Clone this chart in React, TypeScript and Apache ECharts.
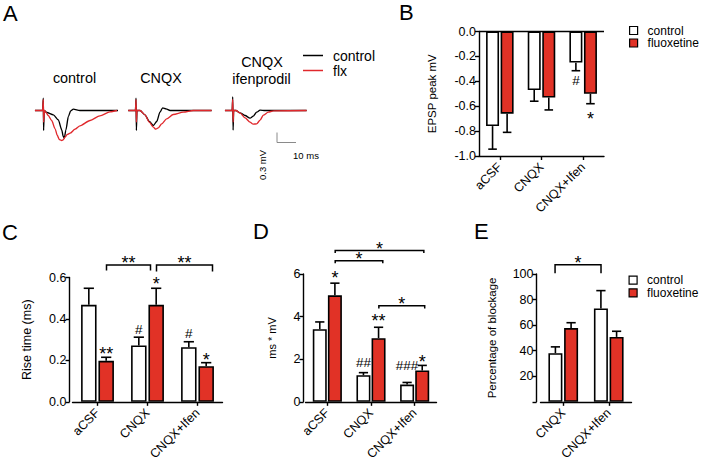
import React, { useEffect, useRef } from 'react';
import * as echarts from 'echarts';

const FONT = '"Liberation Sans", Arial, Helvetica, sans-serif';
const RED = '#e13226';
const TRACE_RED = '#e0282c';

// ---------- Panel A: representative EPSP traces [time (ms), amplitude (mV)] ----------
const traceCtrl1 = [[2.6,0],[6.6,0],[7.0,0.37],[7.16,-0.6],[7.5,0],[8.8,-0.06],[12.3,-0.13],[14.9,-0.28],[16.7,-0.58],[17.5,-0.78],[18.05,-0.83],[18.9,-0.58],[20.2,-0.18],[21.4,-0.01],[22.8,0.04],[26.3,0],[46.3,0]];
const traceFlx1 = [[2.6,0],[6.6,0],[7.0,0.33],[7.16,-0.35],[7.6,0],[8.4,-0.06],[9.6,-0.15],[11.4,-0.3],[13.2,-0.55],[14.4,-0.75],[15.4,-0.87],[16.7,-0.9],[17.5,-0.88],[18.4,-0.8],[19.6,-0.72],[21.1,-0.68],[23.7,-0.56],[26.3,-0.46],[31.6,-0.3],[36.8,-0.16],[42.1,-0.04],[45.8,0]];
const traceCtrl2 = [[51.7,0],[55.5,0],[55.8,0.37],[56.0,-0.6],[56.3,0],[57.9,0],[60.5,-0.13],[62.8,-0.33],[64.9,-0.45],[66.7,-0.33],[68.4,-0.05],[69.8,0.08],[71.6,0.05],[73.7,0],[95.6,0]];
const traceFlx2 = [[51.7,0],[55.5,0],[55.8,0.33],[56.0,-0.35],[56.3,0],[57.9,0],[60.5,-0.13],[62.8,-0.35],[64.9,-0.5],[66.2,-0.56],[67.5,-0.52],[69.3,-0.4],[71.9,-0.25],[75.4,-0.12],[80.7,-0.05],[86.0,0],[95.6,0]];
const traceCtrl3 = [[102.6,0],[106.4,0],[106.7,0.41],[106.9,-0.59],[107.2,0],[108.4,0],[110.5,-0.07],[113.2,-0.15],[115.8,-0.23],[117.5,-0.17],[119.3,-0.05],[121.1,0.01],[123.7,0],[145.6,0]];
const traceFlx3 = [[102.6,0],[106.4,0],[106.7,0.33],[106.9,-0.35],[107.2,0],[108.4,0],[110.5,-0.07],[113.2,-0.22],[115.8,-0.35],[117.5,-0.41],[119.3,-0.4],[121.1,-0.29],[122.8,-0.14],[125.4,-0.05],[128.1,-0.01],[145.6,0]];
const scaleBar = [[130,-0.66],[130,-0.96],[140,-0.96]]; // 0.3 mV / 10 ms

// ---------- Bar panels ----------
const cats3 = ['aCSF', 'CNQX', 'CNQX+Ifen'];
const catsE = ['CNQX', 'CNQX+Ifen'];

// B: EPSP peak (mV)
const bCtrl = [-0.76, -0.47, -0.25];
const bCtrlErr = [0.185, 0.09, 0.065];
const bFlx = [-0.66, -0.53, -0.5];
const bFlxErr = [0.15, 0.1, 0.08];
// C: rise time (ms)
const cCtrl = [0.468, 0.272, 0.264];
const cCtrlErr = [0.08, 0.04, 0.026];
const cFlx = [0.198, 0.468, 0.172];
const cFlxErr = [0.017, 0.08, 0.017];
// D: ms * mV
const dCtrl = [3.41, 1.25, 0.81];
const dCtrlErr = [0.34, 0.12, 0.1];
const dFlx = [5.0, 2.99, 1.47];
const dFlxErr = [0.57, 0.51, 0.24];
// E: percentage of blockage
const eCtrl = [38.1, 73.1];
const eCtrlErr = [4.9, 13.9];
const eFlx = [57.7, 50.8];
const eFlxErr = [4.2, 4.4];

// significance marks: [category, series (0 control / 1 fluoxetine), text, y value]
const bMarks: any[] = [[2, 0, '#', -0.39], [2, 1, '*', -0.673]];
const cMarks: any[] = [[0, 1, '**', 0.25], [1, 0, '#', 0.35], [1, 1, '*', 0.588], [2, 0, '#', 0.331], [2, 1, '*', 0.223]];
const dMarks: any[] = [[0, 1, '*', 6.0], [1, 1, '**', 3.97], [1, 0, '##', 1.84], [2, 0, '###', 1.69], [2, 1, '*', 2.06]];

// brackets: [fromCat, fromShift (cat widths), toCat, toShift, y, leg end y, text]
const cBrackets: any[] = [[0, 0.18, 1, 0.06, 0.66, 0.634, '**'], [1, 0.18, 2, 0.3, 0.66, 0.629, '**']];
const dBrackets: any[] = [[0, 0.18, 2, 0.21, 7.1, 6.98, '*'], [0, 0.18, 1, 0.27, 6.62, 6.5, '*'], [1, 0.18, 2, 0.23, 4.51, 4.38, '*']];
const eBrackets: any[] = [[0, -0.18, 1, -0.17, 107.3, 100.5, '*']];

// bar geometry per panel (px) [barWidth, barGap fraction]
const GEOM: Record<number, [number, number]> = { 1: [13, 0.12], 2: [15.5, 0.12], 3: [14, 0.08], 4: [14, 0.12] };
const offsetOf = (g: number, s: number) => {
  const [w, gap] = GEOM[g];
  const half = (w + gap * w) / 2;
  return s === 0 ? -half : half;
};

const textStyle = (text: string, fontSize: number, extra: any = {}) => ({
  text, fill: '#000', fontFamily: FONT, fontSize,
  align: 'center', verticalAlign: 'middle', textAlign: 'center', textVerticalAlign: 'middle', ...extra,
});

function barSeries(name: string, g: number, data: number[], color: string) {
  const [w, gap] = GEOM[g];
  return {
    type: 'bar', name, xAxisIndex: g, yAxisIndex: g, data, barWidth: w, barGap: `${gap * 100}%`,
    itemStyle: { color, borderColor: '#000', borderWidth: 1.6 }, z: 2, silent: true,
  };
}

function errorSeries(g: number, s: number, vals: number[], errs: number[]) {
  const [w] = GEOM[g];
  return {
    type: 'custom', xAxisIndex: g, yAxisIndex: g, z: 5, silent: true, clip: false,
    data: vals.map((v, i) => [i, v, errs[i]]), encode: { x: 0, y: 1 },
    renderItem: (params: any, api: any) => {
      const cat = api.value(0), m = api.value(1), e = api.value(2);
      const end = m + (m < 0 ? -e : e);
      const p0 = api.coord([cat, m]);
      const p1 = api.coord([cat, end]);
      const x = p0[0] + offsetOf(g, s);
      const cap = w * 0.33;
      const st = { stroke: '#000', lineWidth: 1.6 };
      return {
        type: 'group', children: [
          { type: 'line', shape: { x1: x, y1: p0[1], x2: x, y2: p1[1] }, style: st },
          { type: 'line', shape: { x1: x - cap, y1: p1[1], x2: x + cap, y2: p1[1] }, style: st },
        ],
      };
    },
  };
}

function markSeries(g: number, marks: any[]) {
  return {
    type: 'custom', xAxisIndex: g, yAxisIndex: g, z: 6, silent: true, clip: false,
    data: marks.map((m) => [m[0], m[3]]), encode: { x: 0, y: 1 },
    renderItem: (params: any, api: any) => {
      const m = marks[params.dataIndex];
      const p = api.coord([api.value(0), api.value(1)]);
      const star = m[2].indexOf('*') >= 0;
      const fs = star ? 18 : 13.5;
      return {
        type: 'text', x: p[0] + offsetOf(g, m[1]), y: p[1] + (star ? 4 : 0),
        style: textStyle(m[2], fs),
      };
    },
  };
}

function bracketSeries(g: number, list: any[]) {
  return {
    type: 'custom', xAxisIndex: g, yAxisIndex: g, z: 6, silent: true, clip: false,
    data: list.map((b) => [b[0], b[4]]), encode: { x: 0, y: 1 },
    renderItem: (params: any, api: any) => {
      const b = list[params.dataIndex];
      const w = api.size([1, 0])[0];
      const x1 = api.coord([b[0], b[4]])[0] + b[1] * w;
      const x2 = api.coord([b[2], b[4]])[0] + b[3] * w;
      const y = api.coord([b[0], b[4]])[1];
      const yl = api.coord([b[0], b[5]])[1];
      return {
        type: 'group', children: [
          { type: 'polyline', shape: { points: [[x1, yl], [x1, y], [x2, y], [x2, yl]] }, style: { stroke: '#000', lineWidth: 1.5, fill: null } },
          { type: 'text', x: (x1 + x2) / 2, y: y - 6 + 4, style: textStyle(b[6], 18) },
        ],
      };
    },
  };
}

const axisLineStyle = { color: '#000', width: 1.4 };

function yAxis(g: number, min: number, max: number, interval: number, fmt: any, offset: number, name: string, nameGap: number, nameSize: number) {
  return {
    type: 'value', gridIndex: g, min, max, interval, offset,
    axisLine: { show: true, lineStyle: axisLineStyle },
    axisTick: { show: true, length: 4, lineStyle: axisLineStyle },
    axisLabel: { color: '#000', fontSize: 12.5, fontFamily: FONT, margin: 3, formatter: fmt },
    splitLine: { show: false },
    name, nameLocation: 'middle', nameGap, nameRotate: 90,
    nameTextStyle: { color: '#000', fontSize: nameSize, fontFamily: FONT },
  };
}

function xAxis(g: number, data: string[]) {
  return {
    type: 'category', gridIndex: g, data, position: 'bottom',
    axisLine: { show: true, onZero: false, lineStyle: axisLineStyle },
    axisTick: { show: true, alignWithLabel: true, length: 4, lineStyle: axisLineStyle },
    axisLabel: { color: '#000', fontSize: 12.5, fontFamily: FONT, rotate: 45, margin: 9, interval: 0 },
    splitLine: { show: false },
  };
}

function traceSeries(name: string, data: number[][], color: string) {
  return {
    type: 'line', name, xAxisIndex: 0, yAxisIndex: 0, data, showSymbol: false, symbol: 'none',
    smooth: 0.25, smoothMonotone: 'x', color, lineStyle: { color, width: 1.35 }, silent: true, z: name === 'flxTrace' ? 3 : 2,
  };
}

const legendCommon = {
  orient: 'vertical', icon: 'rect', itemWidth: 8, itemHeight: 8, selectedMode: false, padding: 0,
  itemStyle: { borderColor: '#000', borderWidth: 1.2 },
  textStyle: { color: '#000', fontSize: 12, lineHeight: 11, fontFamily: FONT, padding: [0, 0, 0, 5] },
};

export default function App() {
  const ref = useRef<HTMLDivElement>(null);
  useEffect(() => {
    if (!ref.current) return;
    const chart = echarts.init(ref.current, undefined, { renderer: 'svg' });
    const option: any = {
      animation: false,
      backgroundColor: '#fff',
      textStyle: { fontFamily: FONT },
      grid: [
        { left: 30, top: 90.5, width: 285, height: 60 },
        { left: 479, top: 31.5, width: 125, height: 124.5 },
        { left: 72.5, top: 277.5, width: 150, height: 130 },
        { left: 305.5, top: 274, width: 131, height: 136 },
        { left: 540.5, top: 274, width: 91, height: 136.3 },
      ],
      xAxis: [
        { type: 'value', gridIndex: 0, min: 0, max: 150, show: false },
        xAxis(1, cats3),
        xAxis(2, cats3),
        xAxis(3, cats3),
        xAxis(4, catsE),
      ],
      yAxis: [
        { type: 'value', gridIndex: 0, min: -1.2, max: 0.6, show: false },
        yAxis(1, -1, 0, 0.2, (v: number) => v.toFixed(1), 0, 'EPSP peak mV', 41, 11.5),
        yAxis(2, 0, 0.6, 0.2, (v: number) => v.toFixed(1), 3, 'Rise time (ms)', 36, 12.5),
        yAxis(3, 0, 6, 2, (v: number) => String(v), 2, 'ms * mV', 26, 11),
        yAxis(4, 0, 100, 20, (v: number) => (v === 0 ? '' : String(v)), 4, 'Percentage of blockage', 39, 11.5),
      ],
      legend: [
        {
          ...legendCommon, data: ['ctrlTrace', 'flxTrace'], left: 303, top: 48, itemWidth: 20, itemHeight: 1.5, itemGap: 0,
          itemStyle: { borderWidth: 0 },
          formatter: (n: string) => (n === 'ctrlTrace' ? 'control' : 'flx'),
          textStyle: { color: '#000', fontSize: 14, lineHeight: 15, fontFamily: FONT, padding: [0, 0, 0, 5] },
        },
        { ...legendCommon, data: ['control', 'fluoxetine'], left: 629, top: 24.5, itemGap: 0.5 },
        { ...legendCommon, data: ['control', 'fluoxetine'], left: 628.5, top: 274.2, itemGap: 0.7 },
      ],
      series: [
        traceSeries('ctrlTrace', traceCtrl1, '#000'),
        traceSeries('ctrlTrace', traceCtrl2, '#000'),
        traceSeries('ctrlTrace', traceCtrl3, '#000'),
        traceSeries('flxTrace', traceFlx1, TRACE_RED),
        traceSeries('flxTrace', traceFlx2, TRACE_RED),
        traceSeries('flxTrace', traceFlx3, TRACE_RED),
        { type: 'line', name: 'scale', xAxisIndex: 0, yAxisIndex: 0, data: scaleBar, showSymbol: false, symbol: 'none', lineStyle: { color: '#8a8a8a', width: 1 }, silent: true },

        { ...barSeries('control', 1, bCtrl, '#fff'),
          markLine: { silent: true, symbol: 'none', label: { show: false }, lineStyle: { color: '#000', width: 1.4, type: 'solid' }, data: [{ yAxis: 0 }] } },
        barSeries('fluoxetine', 1, bFlx, RED),
        errorSeries(1, 0, bCtrl, bCtrlErr),
        errorSeries(1, 1, bFlx, bFlxErr),
        markSeries(1, bMarks),

        barSeries('control', 2, cCtrl, '#fff'),
        barSeries('fluoxetine', 2, cFlx, RED),
        errorSeries(2, 0, cCtrl, cCtrlErr),
        errorSeries(2, 1, cFlx, cFlxErr),
        markSeries(2, cMarks),
        bracketSeries(2, cBrackets),

        barSeries('control', 3, dCtrl, '#fff'),
        barSeries('fluoxetine', 3, dFlx, RED),
        errorSeries(3, 0, dCtrl, dCtrlErr),
        errorSeries(3, 1, dFlx, dFlxErr),
        markSeries(3, dMarks),
        bracketSeries(3, dBrackets),

        barSeries('control', 4, eCtrl, '#fff'),
        barSeries('fluoxetine', 4, eFlx, RED),
        errorSeries(4, 0, eCtrl, eCtrlErr),
        errorSeries(4, 1, eFlx, eFlxErr),
        bracketSeries(4, eBrackets),
      ],
      graphic: [
        { type: 'text', x: 3, y: 13, style: textStyle('A', 22, { align: 'left', textAlign: 'left' }) },
        { type: 'text', x: 399, y: 12.5, style: textStyle('B', 22, { align: 'left', textAlign: 'left' }) },
        { type: 'text', x: 2, y: 232.5, style: textStyle('C', 22, { align: 'left', textAlign: 'left' }) },
        { type: 'text', x: 253, y: 231.5, style: textStyle('D', 22, { align: 'left', textAlign: 'left' }) },
        { type: 'text', x: 474, y: 231, style: textStyle('E', 22, { align: 'left', textAlign: 'left' }) },
        { type: 'text', x: 74.5, y: 78.4, style: textStyle('control', 14.4) },
        { type: 'text', x: 161, y: 78.4, style: textStyle('CNQX', 14.4) },
        { type: 'text', x: 262, y: 62.2, style: textStyle('CNQX', 14.4) },
        { type: 'text', x: 261.5, y: 79.2, style: textStyle('ifenprodil', 14.4) },
        { type: 'text', x: 306, y: 155, style: textStyle('10 ms', 9.5) },
        { type: 'text', x: 262.5, y: 165, rotation: Math.PI / 2, style: textStyle('0.3 mV', 9.5) },
      ],
    };
    chart.setOption(option);
    return () => chart.dispose();
  }, []);
  return <div ref={ref} style={{ position: 'absolute', left: 0, top: 0, width: 701, height: 463, background: '#fff' }} />;
}
